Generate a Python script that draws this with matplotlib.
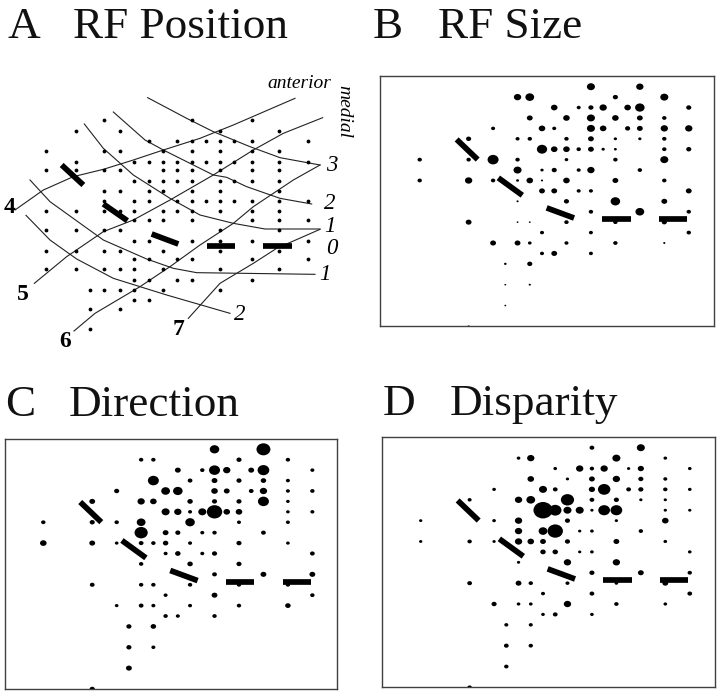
import matplotlib
matplotlib.use("Agg")
import matplotlib.pyplot as plt
from matplotlib.markers import MarkerStyle
from matplotlib.transforms import Affine2D

plt.rcParams["font.family"] = ["Liberation Serif", "DejaVu Serif"]

# recording sites, lattice column / row, shared by panels B C D
dot_col = [14, 18,
           8, 9, 16, 20,
           11, 13, 14, 15, 17, 18, 22,
           9, 12, 14, 16, 18, 20,
           6, 10, 11, 14, 15, 17, 18, 20, 22,
           4, 8, 9, 12, 14, 16, 18, 20,
           10, 11, 12, 13, 14, 15, 16, 20, 22,
           0, 4, 6, 8, 12, 16, 20,
           8, 10, 11, 13, 14, 18,
           0, 4, 6, 8, 9, 10, 12, 16, 20,
           10, 11, 13, 14, 22,
           8, 12, 16, 20,
           14, 18, 22,
           4, 8, 9, 12, 16, 20,
           10, 14, 22,
           6, 8, 9, 12, 16, 20,
           10, 11, 14,
           7, 9,
           7, 9,
           7,
           4]
dot_row = [0, 0,
           1, 1, 1, 1,
           2, 2, 2, 2, 2, 2, 2,
           3, 3, 3, 3, 3, 3,
           4, 4, 4, 4, 4, 4, 4, 4, 4,
           5, 5, 5, 5, 5, 5, 5, 5,
           6, 6, 6, 6, 6, 6, 6, 6, 6,
           7, 7, 7, 7, 7, 7, 7,
           8, 8, 8, 8, 8, 8,
           9, 9, 9, 9, 9, 9, 9, 9, 9,
           10, 10, 10, 10, 10,
           11, 11, 11, 11,
           12, 12, 12,
           13, 13, 13, 13, 13, 13,
           14, 14, 14,
           15, 15, 15, 15, 15, 15,
           16, 16, 16,
           17, 17,
           19, 19,
           21,
           23]

# response values per site, same order as dot_col
b_size = [22, 20,
          20, 24, 14, 22,
          18, 11, 14, 20, 18, 26, 14,
          16, 18, 22, 18, 16, 12,
          11, 18, 11, 22, 18, 14, 16, 20, 20,
          14, 11, 12, 12, 16, 9, 9, 12,
          28, 18, 18, 12, 16, 9, 8, 12, 14,
          12, 12, 30, 12, 10, 12, 22,
          22, 9, 14, 11, 20, 12,
          12, 20, 12, 8, 18, 6, 18, 16, 12,
          16, 16, 11, 11, 16,
          6, 14, 26, 16,
          12, 24, 12,
          16, 5, 5, 12, 12, 14,
          11, 11, 12,
          16, 16, 10, 11, 12, 6,
          11, 16, 11,
          7, 14,
          5, 6,
          5,
          6]
c_size = [26, 38,
          12, 12, 14, 12,
          16, 12, 30, 20, 16, 32, 11,
          30, 13, 16, 14, 15, 11,
          14, 24, 26, 18, 16, 13, 20, 11, 12,
          16, 20, 18, 15, 14, 14, 30, 10,
          22, 20, 11, 22, 42, 18, 18, 10, 11,
          12, 14, 12, 24, 26, 11, 11,
          36, 16, 14, 11, 12, 13,
          18, 16, 10, 13, 12, 15, 11, 14, 10,
          11, 15, 11, 14, 13,
          12, 15, 14, 0,
          13, 16, 16,
          13, 12, 12, 12, 12, 12,
          11, 16, 12,
          10, 13, 11, 11, 12, 15,
          12, 11, 12,
          14, 15,
          14, 11,
          16,
          14]
d_size = [13, 22,
          10, 20, 22, 10,
          10, 20, 12, 20, 9, 17, 10,
          18, 9, 16, 20, 14, 11,
          10, 22, 13, 17, 34, 13, 14, 12, 10,
          11, 20, 24, 36, 13, 14, 9, 9,
          52, 34, 22, 22, 9, 32, 32, 9, 9,
          9, 0, 10, 20, 14, 9, 18,
          20, 24, 42, 9, 10, 12,
          9, 12, 9, 20, 18, 16, 14, 16, 10,
          15, 15, 9, 10, 10,
          9, 20, 20, 0,
          14, 16, 12,
          13, 16, 12, 11, 10, 16,
          11, 13, 13,
          14, 10, 10, 20, 12, 10,
          10, 13, 10,
          11, 11,
          13, 12,
          12,
          12]

# RF centre bars in lattice units
bar_col = [(3.02, 4.74), (6.43, 8.39), (10.38, 12.62), (14.93, 17.25), (19.59, 21.88)]
bar_row = [(5.06, 6.99), (8.75, 10.42), (11.63, 12.6), (12.72, 12.72), (12.72, 12.72)]

# panel A sites, rows of x positions
a_rows = [181, 212, 243, 272, 307, 330, 362, 392, 423, 453, 480, 510, 542, 573,
          598, 628, 660, 690, 720, 748, 808]
a_cols = [[313, 576, 756],
          [228, 361, 661, 838],
          [446, 532, 576, 618, 661, 703, 756, 925],
          [137, 313, 361, 490, 576, 661, 756, 838],
          [228, 403, 446, 490, 532, 576, 618, 661, 703, 756, 838, 925],
          [137, 228, 313, 361, 490, 532, 576, 661, 756, 838],
          [403, 446, 490, 532, 576, 661, 703, 756, 838],
          [313, 361, 446, 490, 576, 661, 838],
          [313, 403, 446, 532, 576, 618, 661, 703, 756, 838, 925],
          [137, 228, 313, 361, 403, 490, 532, 576, 661, 756, 838],
          [403, 446, 490, 576, 756, 838, 925],
          [137, 228, 313, 361, 661, 838],
          [403, 446, 576, 661, 756, 925],
          [137, 228, 313, 361, 490, 661, 838],
          [403, 446, 532, 576, 756, 925],
          [137, 228, 313, 361, 403, 490, 661, 838],
          [403, 446, 532, 576, 756],
          [270, 313, 361, 403, 490, 661],
          [403, 446],
          [270, 361],
          [270]]

# panel A isolines
line4 = [(45, 450), (130, 390), (220, 350), (310, 328), (400, 300), (490, 270), (600, 235), (700, 195), (885, 115)]
line5 = [(103, 670), (200, 590), (310, 515), (400, 480), (510, 420), (640, 345), (760, 270), (850, 220), (968, 173)]
line6 = [(222, 813), (285, 760), (420, 680), (510, 620), (600, 555), (700, 490), (760, 440), (820, 400), (880, 360), (960, 315)]
line7 = [(565, 775), (660, 670), (760, 610), (830, 565), (960, 508)]
ant3 = [(443, 113), (560, 175), (640, 215), (750, 260), (840, 293), (960, 315)]
ant2 = [(340, 156), (435, 240), (490, 270), (570, 310), (640, 345), (680, 352), (740, 380), (840, 415), (935, 432)]
ant1 = [(253, 192), (310, 265), (400, 345), (510, 415), (600, 465), (700, 490), (795, 507), (960, 507)]
post1 = [(90, 360), (150, 425), (310, 540), (440, 597), (520, 625), (590, 638), (945, 643)]
post2 = [(78, 466), (150, 540), (230, 597), (340, 655), (420, 680), (500, 705), (690, 760)]
a_lines = [line4, line5, line6, line7, ant3, ant2, ant1, post1, post2]
a_bars = [[(185, 315), (250, 375)], [(310, 432), (382, 482)], [(455, 522), (535, 552)],
          [(620, 558), (705, 558)], [(790, 558), (875, 558)]]

W, H = 720, 700
fig = plt.figure(figsize=(W / 100, H / 100), dpi=100)
oval = MarkerStyle("o", transform=Affine2D().scale(1.1, 0.95))


def px_axes(left, top, right, bottom):
    return fig.add_axes([left / W, 1 - bottom / H, (right - left) / W, (bottom - top) / H])


def lattice_panel(box, origin, sizes):
    left, top, right, bottom = box
    ax = px_axes(left, top, right, bottom)
    ax.scatter(dot_col, dot_row, s=[(d / 3 * 0.72) ** 2 for d in sizes], c="black", marker=oval, linewidths=0, zorder=2)
    for xs, ys in zip(bar_col, bar_row):
        ax.plot(xs, ys, color="black", lw=4.1, solid_capstyle="butt", zorder=3)
    ax.set_xlim((left - origin[0]) / 12.23, (right - origin[0]) / 12.23)
    ax.set_ylim((bottom - origin[1]) / 10.42, (top - origin[1]) / 10.42)
    ax.set_xticks([])
    ax.set_yticks([])
    for s in ax.spines.values():
        s.set_linewidth(1.0)
        s.set_color("#404040")
        s.set_zorder(1)
    return ax


# panel A
ax = px_axes(0, 60, 360, 360)
ax.set_xlim(0, 1080)
ax.set_ylim(900, 0)
ax.axis("off")
for row, cols in zip(a_rows, a_cols):
    ax.scatter(cols, [row] * len(cols), s=7.5, c="black", linewidths=0, zorder=2)
for pts in a_lines:
    ax.plot([p[0] for p in pts], [p[1] for p in pts], color="#222222", lw=0.8, zorder=1)
for pts in a_bars:
    ax.plot([p[0] for p in pts], [p[1] for p in pts], color="black", lw=4.1, solid_capstyle="butt", zorder=3)

for x, y, t in [(30, 442, "4"), (70, 705, "5"), (195, 845, "6"), (537, 810, "7")]:
    ax.text(x, y, t, fontsize=17, fontweight="bold", ha="center", va="center")
for x, y, t in [(995, 318, "3"), (990, 430, "2"), (990, 500, "1"), (995, 565, "0"), (975, 645, "1"), (718, 765, "2")]:
    ax.text(x, y, t, fontsize=16.5, style="italic", ha="center", va="center")
ax.text(898, 70, "anterior", fontsize=14, style="italic", ha="center", va="center")
ax.text(1030, 155, "medial", fontsize=14, style="italic", rotation=-90, ha="center", va="center")

lattice_panel((380, 76, 714, 326), (419.7, 86.7), b_size)
lattice_panel((5, 439, 337, 689), (43.3, 449.3), c_size)
lattice_panel((382, 437, 715, 687), (420.7, 447.7), d_size)

# panel letters and titles
titles = [(8, 38, "A"), (73, 38, "RF Position"), (373, 38, "B"), (438, 38, "RF Size"),
          (5, 416.5, "C"), (69, 416.5, "Direction"), (383, 415, "D"), (450, 415, "Disparity")]
for x, y, t in titles:
    fig.text(x / W, 1 - y / H, t, fontsize=32.5, ha="left", va="baseline", color="#111111")

fig.savefig("out.png", dpi=100)
